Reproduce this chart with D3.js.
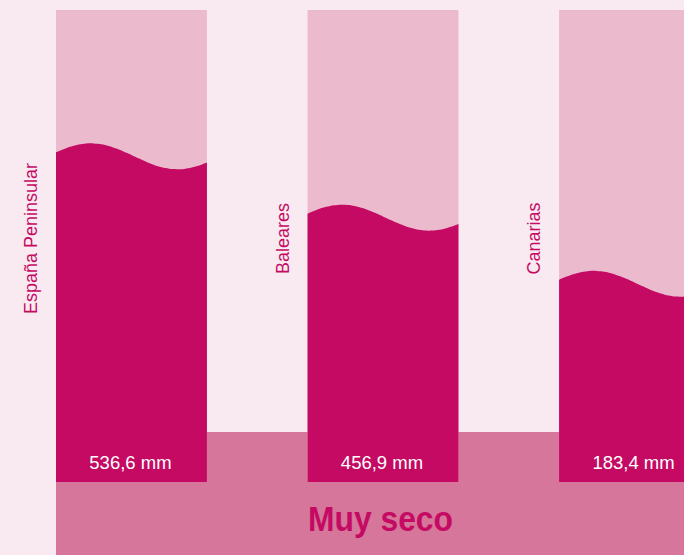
<!DOCTYPE html>
<html>
<head>
<meta charset="utf-8">
<script src="https://cdn.jsdelivr.net/npm/d3@7"></script>
<style>
  html, body { margin: 0; padding: 0; background: #f9eaf1; }
  svg { display: block; }
</style>
</head>
<body>
<svg id="chart" width="684" height="555"></svg>
<script>
// Precipitation by region
const regions = ["España Peninsular", "Baleares", "Canarias"];
const rainfallMm = [536.6, 456.9, 183.4];
// Share of the normal value reached (fill level of each column, %)
const pctNormal = [69, 56, 42];
const categoryLabel = "Muy seco";

const W = 684, H = 555;
const colors = {
  bg: "#f9eaf1",
  column: "#ebbbcd",
  fill: "#c40a63",
  band: "#d5769a",
  text: "#c40a63"
};

const svg = d3.select("#chart");
svg.append("rect").attr("width", W).attr("height", H).attr("fill", colors.bg);

const colTop = 10, colBottom = 482, bandTop = 432;
const x = d3.scaleBand().domain(regions).range([56, 710]).paddingInner(0.4).paddingOuter(0);
const y = d3.scaleLinear().domain([0, 100]).range([colBottom, colTop]);

// Category band behind the columns
svg.append("rect")
  .attr("x", x.range()[0]).attr("y", bandTop)
  .attr("width", W - x.range()[0] + 40).attr("height", H - bandTop)
  .attr("fill", colors.band);

const data = regions.map((r, i) => ({ region: r, mm: rainfallMm[i], pct: pctNormal[i] }));

const g = svg.selectAll("g.col").data(data).join("g").attr("class", "col");

// Empty column
g.append("rect")
  .attr("x", d => x(d.region)).attr("y", colTop)
  .attr("width", x.bandwidth()).attr("height", colBottom - colTop)
  .attr("fill", colors.column);

// Wavy liquid fill
const amp = 13, period = 1.15, peakT = 0.23;
const waveArea = d3.area()
  .x(p => p.x).y0(colBottom).y1(p => p.y)
  .curve(d3.curveBasis);
g.append("path")
  .attr("fill", colors.fill)
  .attr("d", d => {
    const x0 = x(d.region), w = x.bandwidth(), level = y(d.pct);
    const pts = d3.range(0, 41).map(k => {
      const t = k / 40;
      return { x: x0 + t * w, y: level - amp * Math.cos(2 * Math.PI * (t - peakT) / period) };
    });
    return waveArea(pts);
  });

// Value labels
g.append("text")
  .attr("x", d => x(d.region) + x.bandwidth() / 2 - 1)
  .attr("y", 469)
  .attr("text-anchor", "middle")
  .attr("fill", "#ffffff")
  .style("font-family", "Liberation Sans, Arial, sans-serif")
  .style("font-size", "18.5px")
  .text(d => d3.format(".1f")(d.mm).replace(".", ",") + " mm");

// Region names, rotated
g.append("text")
  .attr("transform", d => `translate(${x(d.region) - 19},238.5) rotate(-90)`)
  .attr("text-anchor", "middle")
  .attr("fill", colors.text)
  .style("font-family", "Liberation Sans, Arial, sans-serif")
  .style("font-size", "18px")
  .text(d => d.region);

// Category title
svg.append("text")
  .attr("x", 380.5).attr("y", 531)
  .attr("text-anchor", "middle")
  .attr("fill", colors.text)
  .attr("textLength", 145)
  .attr("lengthAdjust", "spacingAndGlyphs")
  .style("font-family", "Liberation Sans Narrow, Liberation Sans, Arial, sans-serif")
  .style("font-weight", "bold")
  .style("font-size", "35px")
  .text(categoryLabel);
</script>
</body>
</html>
